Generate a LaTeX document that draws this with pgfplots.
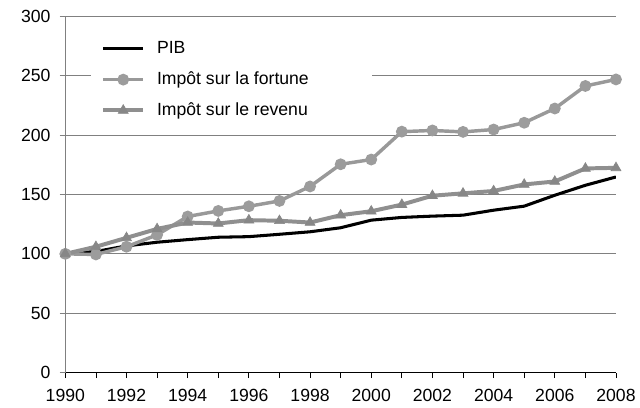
\documentclass[border=0pt]{standalone}
\usepackage{pgfplots}
\pgfplotsset{compat=1.18}
\usepackage{fontspec}
\setmainfont{Liberation Sans}
\definecolor{fort}{HTML}{999999}
\definecolor{fortm}{HTML}{9C9C9C}
\definecolor{rev}{HTML}{8F8F8F}
\definecolor{revm}{HTML}{878787}
\begin{document}
\begin{tikzpicture}
\begin{axis}[
  scale only axis,
  width=415.7pt, height=268.7pt,
  xmin=1990, xmax=2008, ymin=0, ymax=300,
  axis x line*=bottom, axis y line*=left,
  x axis line style={black, line width=0.8pt},
  y axis line style={gray, line width=0.8pt},
  xtick={1990,1992,...,2008},
  minor xtick={1991,1993,...,2007},
  ytick={0,50,...,300},
  tick align=outside,
  major tick length=4.2pt, minor tick length=4.2pt,
  x tick style={black, line width=0.6pt},
  y tick style={gray, line width=0.6pt},
  ymajorgrids, grid style={gray, line width=0.6pt},
  /pgf/number format/1000 sep={},
  /pgf/number format/assume math mode=true,
  tick label style={font=\fontsize{13.3}{15}\selectfont},
  xticklabel style={yshift=-5pt},
  yticklabel style={xshift=-3.5pt},
  legend cell align=left,
  legend style={at={(rel axis cs:0.047,0.951)}, anchor=north west, draw=none, fill=white,
    font=\fontsize{13.3}{15}\selectfont, row sep=11.25pt, column sep=9pt,
    inner xsep=7.5pt, inner ysep=5pt,
    nodes={inner sep=0pt, text height=9.5pt, text depth=2.5pt}},
  legend image code/.code={
    \draw[mark repeat=2,mark phase=2,#1] plot coordinates {(0pt,0pt) (15pt,0pt) (30pt,0pt)};},
]
\addplot[black, line width=2.3pt, no marks] coordinates {
(1990,100) (1991,102) (1992,106.7) (1993,109.8) (1994,112) (1995,114) (1996,114.5)
(1997,116.5) (1998,118.6) (1999,122) (2000,128.4) (2001,130.7) (2002,131.8) (2003,132.6)
(2004,136.8) (2005,140.2) (2006,149.4) (2007,157.8) (2008,164.8)};
\addlegendentry{PIB}
\addplot[fort, line width=2.6pt, mark=*, mark size=3.1pt, mark options={fill=fortm, draw=fortm, solid}] coordinates {
(1990,100) (1991,99.5) (1992,106) (1993,116) (1994,131.5) (1995,136.2) (1996,140.1)
(1997,144.6) (1998,156.8) (1999,175.5) (2000,179.5) (2001,203) (2002,204) (2003,202.8)
(2004,204.8) (2005,210.5) (2006,222.5) (2007,241.5) (2008,247)};
\addlegendentry{Impôt sur la fortune\rule{40pt}{0pt}}
\addplot[rev, line width=3pt, mark=triangle*, mark size=4.3pt, mark options={fill=revm, draw=revm, solid, line width=0.5pt}] coordinates {
(1990,100) (1991,106) (1992,113.5) (1993,121) (1994,126.4) (1995,125.6) (1996,128.4)
(1997,127.9) (1998,126.4) (1999,132.6) (2000,135.9) (2001,141.5) (2002,149) (2003,151)
(2004,153) (2005,158.5) (2006,161) (2007,172) (2008,172.5)};
\addlegendentry{Impôt sur le revenu}
\end{axis}
\path[use as bounding box] ([shift={(-49.3pt,-26.25pt)}]current axis.south west) rectangle ([shift={(15pt,12.5pt)}]current axis.north east);
\end{tikzpicture}
\end{document}
